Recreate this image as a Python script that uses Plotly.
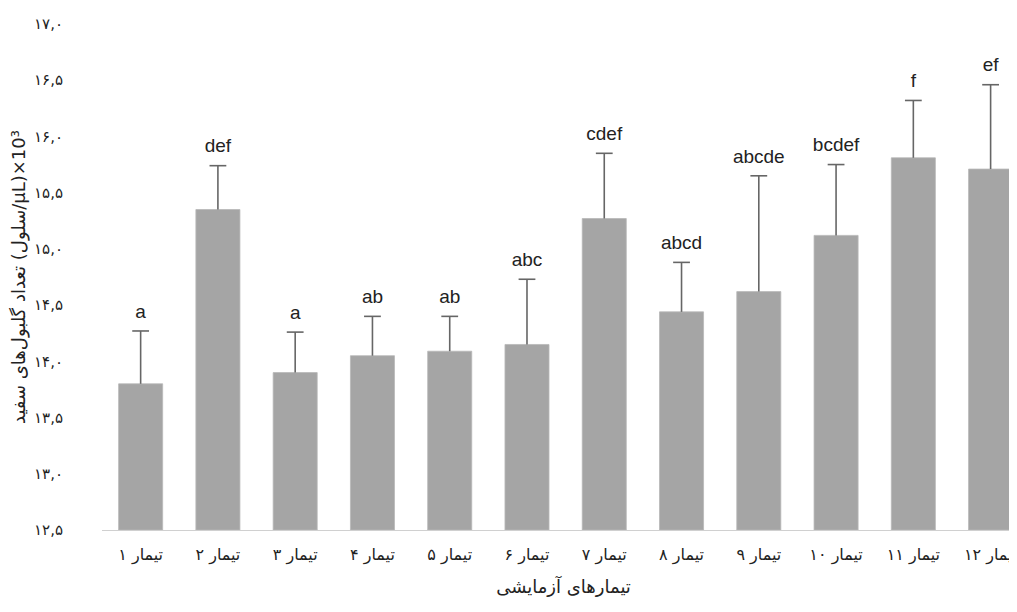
import plotly.graph_objects as go

categories = ["تیمار ۱", "تیمار ۲", "تیمار ۳", "تیمار ۴", "تیمار ۵", "تیمار ۶",
              "تیمار ۷", "تیمار ۸", "تیمار ۹", "تیمار ۱۰", "تیمار ۱۱", "تیمار ۱۲"]
means = [13.80, 15.35, 13.90, 14.05, 14.09, 14.15, 15.27, 14.44, 14.62, 15.12, 15.81, 15.71]
errors = [0.47, 0.39, 0.36, 0.35, 0.31, 0.58, 0.58, 0.44, 1.03, 0.63, 0.51, 0.75]
letters = ["a", "def", "a", "ab", "ab", "abc", "cdef", "abcd", "abcde", "bcdef", "f", "ef"]
tick_vals = [12.5, 13.0, 13.5, 14.0, 14.5, 15.0, 15.5, 16.0, 16.5, 17.0]
tick_text = ["۱۲,۵", "۱۳,۰", "۱۳,۵", "۱۴,۰", "۱۴,۵", "۱۵,۰", "۱۵,۵", "۱۶,۰", "۱۶,۵", "۱۷,۰"]

base = 12.5
tops = [m + e for m, e in zip(means, errors)]

FONT = "Liberation Sans, DejaVu Sans, sans-serif"

fig = go.Figure()
fig.add_trace(go.Bar(
    x=categories,
    y=[m - base for m in means],
    base=base,
    marker=dict(color="#A5A5A5", line=dict(color="#B8B8B8", width=0.8)),
    error_y=dict(type="data", symmetric=False, array=errors,
                 arrayminus=[0] * len(errors), color="#666666",
                 thickness=1.6, width=0),
    hoverinfo="skip",
    showlegend=False,
))
fig.add_trace(go.Scatter(
    x=categories,
    y=tops,
    mode="markers+text",
    marker=dict(symbol="line-ew", size=12, line=dict(color="#666666", width=1.6)),
    text=letters,
    textposition="top center",
    textfont=dict(family=FONT, size=19, color="#222222"),
    showlegend=False,
    hoverinfo="skip",
))

fig.update_layout(
    width=1017, height=612,
    margin=dict(l=94, r=0, t=16, b=90),
    paper_bgcolor="white", plot_bgcolor="white",
    bargap=0.43,
    font=dict(family=FONT, color="#222222"),
    xaxis=dict(
        type="category",
        range=[-0.5, 11.445],
        showline=True, linecolor="#D0D0D0", linewidth=1.2,
        showgrid=False, ticks="",
        tickfont=dict(size=16, family="DejaVu Sans", color="#222222"),
        ticklabelstandoff=10,
        title=dict(text="تیمارهای آزمایشی", font=dict(size=18, family="DejaVu Sans"), standoff=16),
    ),
    yaxis=dict(
        range=[12.5, 17.0],
        tickvals=tick_vals, ticktext=tick_text,
        showgrid=False, showline=False, zeroline=False, ticks="",
        tickfont=dict(size=15, family="DejaVu Sans", color="#222222"),
        ticklabelstandoff=38,
        title=dict(text="تعداد گلبول‌های سفید (سلول/µL)×10³",
                   font=dict(size=18, family="DejaVu Sans"), standoff=8),
    ),
)

fig.write_html("out.html")
